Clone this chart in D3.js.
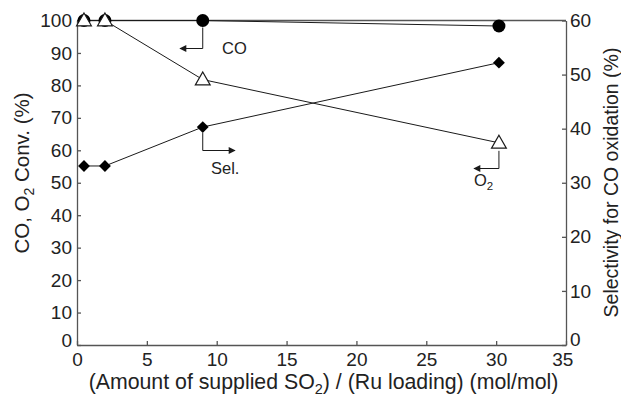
<!DOCTYPE html>
<html>
<head>
<meta charset="utf-8">
<script src="https://cdn.jsdelivr.net/npm/d3@7"></script>
<style>
  body { margin: 0; background: #fff; }
  svg text { font-family: "Liberation Sans", Arial, sans-serif; fill: #222; }
</style>
</head>
<body>
<svg id="chart" width="621" height="397"></svg>
<script>
// data
const xVals = [0.5, 2, 9, 30.2];
const coConv = [100, 100, 100, 98.3];
const o2Conv = [100, 100, 81.8, 62.3];
const selectivity = [33.1, 33.1, 40.3, 52.2];

const xTicks = [0, 5, 10, 15, 20, 25, 30, 35];
const leftTicks = [0, 10, 20, 30, 40, 50, 60, 70, 80, 90, 100];
const rightTicks = [0, 10, 20, 30, 40, 50, 60];

const margin = { top: 20.5, right: 55, bottom: 52, left: 77 };
const width = 621, height = 397;

const svg = d3.select('#chart');
const ink = '#1a1a1a';
const axisCol = '#555';

const x = d3.scaleLinear().domain([0, 35]).range([margin.left, width - margin.right]);
const yL = d3.scaleLinear().domain([0, 100]).range([height - margin.bottom, margin.top]);
const yR = d3.scaleLinear().domain([0, 60]).range([height - margin.bottom, margin.top]);

// axes (ticks point inward)
const gx = svg.append('g')
    .attr('transform', `translate(0,${yL(0)})`)
    .call(d3.axisBottom(x).tickValues(xTicks).tickSizeInner(-4).tickSizeOuter(0).tickPadding(8));
const gl = svg.append('g')
    .attr('transform', `translate(${x(0)},0)`)
    .call(d3.axisLeft(yL).tickValues(leftTicks).tickSizeInner(-4).tickSizeOuter(0).tickPadding(5));
const gr = svg.append('g')
    .attr('transform', `translate(${x(35)},0)`)
    .call(d3.axisRight(yR).tickValues(rightTicks).tickSizeInner(-4).tickSizeOuter(0).tickPadding(4));

[gx, gl, gr].forEach(g => {
    g.selectAll('path,line').attr('stroke', axisCol).attr('stroke-width', 1.3);
    g.selectAll('text').style('font-size', '19px').attr('fill', ink).attr('font-family', null);
});
// the zeros at the corners sit a bit off
gl.selectAll('.tick text').filter(d => d === 0).attr('dy', '0.1em');
gr.selectAll('.tick text').filter(d => d === 0).attr('dy', '0.05em');
gx.selectAll('.tick text').filter(d => d === 35).attr('dx', '-0.2em');

// top frame line
svg.append('line')
    .attr('x1', x(0)).attr('x2', x(35))
    .attr('y1', yL(100)).attr('y2', yL(100))
    .attr('stroke', axisCol).attr('stroke-width', 1.3);

// lines
const lineL = d3.line().x((d, i) => x(xVals[i])).y(d => yL(d));
const lineR = d3.line().x((d, i) => x(xVals[i])).y(d => yR(d));

svg.append('path').datum(coConv).attr('d', lineL).attr('fill', 'none').attr('stroke', ink).attr('stroke-width', 1);
svg.append('path').datum(o2Conv).attr('d', lineL).attr('fill', 'none').attr('stroke', ink).attr('stroke-width', 1);
svg.append('path').datum(selectivity).attr('d', lineR).attr('fill', 'none').attr('stroke', ink).attr('stroke-width', 1);

// markers
const triangle = d3.symbol().type(d3.symbolTriangle).size(95);
const diamond = d3.symbol().type(d3.symbolSquare).size(70);

svg.selectAll('.co').data(coConv).join('circle')
    .attr('cx', (d, i) => x(xVals[i])).attr('cy', d => yL(d))
    .attr('r', 6.5).attr('fill', '#000');

svg.selectAll('.o2').data(o2Conv).join('path')
    .attr('d', triangle)
    .attr('transform', (d, i) => `translate(${x(xVals[i])},${yL(d) + 1})`)
    .attr('fill', '#fff').attr('stroke', ink).attr('stroke-width', 1.2);

svg.selectAll('.sel').data(selectivity).join('path')
    .attr('d', diamond)
    .attr('transform', (d, i) => `translate(${x(xVals[i])},${yR(d)}) rotate(45)`)
    .attr('fill', '#000');

// annotation arrows
const defs = svg.append('defs');
defs.append('marker')
    .attr('id', 'arrow').attr('viewBox', '0 0 10 10')
    .attr('refX', 9).attr('refY', 5)
    .attr('markerWidth', 9).attr('markerHeight', 7)
    .attr('markerUnits', 'userSpaceOnUse')
    .attr('orient', 'auto')
    .append('path').attr('d', 'M0,0 L10,5 L0,10 Z').attr('fill', ink);

function callout(px, py, dropTo, endX) {
    svg.append('path')
        .attr('d', `M${px},${py} V${dropTo} H${endX}`)
        .attr('fill', 'none').attr('stroke', ink).attr('stroke-width', 1)
        .attr('marker-end', 'url(#arrow)');
}
callout(x(xVals[2]), yL(coConv[2]) + 7, 48.5, 180);
callout(x(xVals[2]), yR(selectivity[2]) + 6, 150.5, 235);
callout(x(xVals[3]), yL(o2Conv[3]) + 8, 168.5, 474);

const labelSize = '16.5px';
svg.append('text').attr('x', 222).attr('y', 54).style('font-size', labelSize).text('CO');
svg.append('text').attr('x', 211).attr('y', 174).style('font-size', labelSize).text('Sel.');
const o2t = svg.append('text').attr('x', 474).attr('y', 186).style('font-size', labelSize);
o2t.append('tspan').text('O');
o2t.append('tspan').attr('dy', 4).style('font-size', '11.5px').text('2');

// axis titles
const xt = svg.append('text')
    .attr('x', (x(0) + x(35)) / 2 + 2).attr('y', 389)
    .attr('text-anchor', 'middle').style('font-size', '21.3px');
xt.append('tspan').text('(Amount of supplied SO');
xt.append('tspan').attr('dy', 5).style('font-size', '14.5px').text('2');
xt.append('tspan').attr('dy', -5).text(') / (Ru loading) (mol/mol)');

const yt = svg.append('text')
    .attr('transform', `translate(29,173) rotate(-90)`)
    .attr('text-anchor', 'middle').style('font-size', '20.5px');
yt.append('tspan').text('CO, O');
yt.append('tspan').attr('dy', 5).style('font-size', '14px').text('2');
yt.append('tspan').attr('dy', -5).text(' Conv. (%)');

svg.append('text')
    .attr('transform', `translate(618,182.5) rotate(-90)`)
    .attr('text-anchor', 'middle').style('font-size', '19.5px')
    .text('Selectivity for CO oxidation (%)');
</script>
</body>
</html>
